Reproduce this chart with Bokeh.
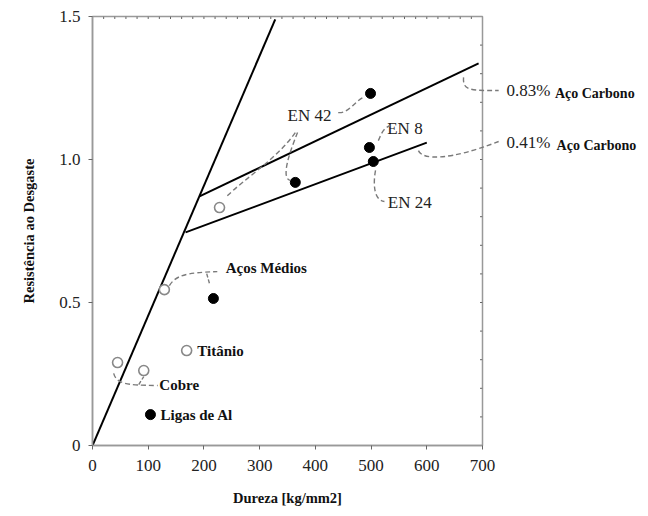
import math
from bokeh.plotting import figure
from bokeh.models import Range1d, ColumnDataSource
from bokeh.core.properties import value
from bokeh.embed import file_html
from bokeh.resources import INLINE

# ---- data ----
x_ticks = [0, 100, 200, 300, 400, 500, 600, 700]
y_ticks = [0, 0.5, 1.0, 1.5]
y_tick_labels = {0: "0", 0.5: "0.5", 1.0: "1.0", 1.5: "1.5"}
x_minor_step = 20
y_minor_step = 0.1

# trend lines (hardness, wear resistance)
line_steep_x = [0, 328]
line_steep_y = [0, 1.49]
line_083_x = [192, 693]
line_083_y = [0.871, 1.336]
line_041_x = [167, 600]
line_041_y = [0.745, 1.059]

# filled points
filled_x = [499, 497, 504, 364, 217, 104]
filled_y = [1.231, 1.042, 0.993, 0.92, 0.514, 0.108]
# open points
open_x = [228, 129, 169, 45, 92]
open_y = [0.832, 0.545, 0.332, 0.29, 0.262]

# labels
en_labels = ["EN 42", "EN 8", "EN 24"]
en_x = [350, 529, 530]
en_y = [1.154, 1.108, 0.85]

pct_labels = ["0.83%", "0.41%"]
pct_x = [743, 743]
pct_y = [1.241, 1.059]
carb_labels = ["Aço Carbono", "Aço Carbono"]
carb_x = [830, 833]
carb_y = [1.231, 1.049]

mat_labels = ["Aços Médios", "Titânio", "Cobre", "Ligas de Al"]
mat_x = [239, 188, 120, 122]
mat_y = [0.619, 0.329, 0.213, 0.105]

# dashed leader curves (bezier: x0, y0, x1, y1, cx0, cy0, cx1, cy1)
lead_x0 = [441, 364, 368, 513, 508, 666, 585, 138, 38]
lead_y0 = [1.164, 1.094, 1.094, 1.066, 0.962, 1.287, 1.031, 0.559, 0.252]
lead_x1 = [486, 239, 355, 535, 524, 729, 729, 224, 117]
lead_y1 = [1.217, 0.867, 0.927, 1.119, 0.853, 1.241, 1.063, 0.608, 0.210]
lead_cx0 = [460, 330, 355, 517, 503, 664, 592, 149, 43]
lead_cy0 = [1.161, 1.00, 1.031, 1.080, 0.909, 1.241, 0.997, 0.594, 0.217]
lead_cx1 = [468, 270, 337, 520, 506, 678, 642, 167, 59]
lead_cy1 = [1.199, 0.93, 0.934, 1.110, 0.857, 1.241, 0.997, 0.605, 0.210]
# small hooks
hook_x0 = [205, 83]
hook_y0 = [0.601, 0.213]
hook_x1 = [210, 92]
hook_y1 = [0.566, 0.241]

SERIF = "Liberation Serif"
AX_COLOR = "#999999"
TICK_COLOR = "#666666"

p = figure(width=640, height=508,
           x_range=Range1d(0, 700), y_range=Range1d(0, 1.5),
           output_backend="svg", toolbar_location=None,
           min_border_left=92, min_border_right=158,
           min_border_top=16, min_border_bottom=63)
p.background_fill_color = "white"
p.border_fill_color = "white"
p.outline_line_color = AX_COLOR
p.outline_line_width = 1.5
p.xgrid.visible = False
p.ygrid.visible = False

for ax in (p.xaxis[0], p.yaxis[0]):
    ax.axis_line_color = AX_COLOR
    ax.axis_line_width = 1.5
    ax.major_tick_line_color = TICK_COLOR
    ax.minor_tick_line_color = TICK_COLOR
    ax.major_tick_in = 0
    ax.major_tick_out = 4
    ax.minor_tick_in = 2
    ax.minor_tick_out = 0
    ax.major_label_text_font = SERIF
    ax.major_label_text_font_size = "17px"
    ax.major_label_text_color = "#222222"
    ax.axis_label_text_font = SERIF
    ax.axis_label_text_font_style = "bold"
    ax.axis_label_text_font_size = "14.5px"
    ax.axis_label_text_color = "#111111"

p.xaxis.ticker = x_ticks
p.xaxis.ticker.num_minor_ticks = 5
p.yaxis.ticker = y_ticks
p.yaxis.ticker.num_minor_ticks = 5
p.yaxis.major_label_overrides = y_tick_labels
p.xaxis.axis_label = "Dureza [kg/mm2]"
p.yaxis.axis_label = "Resistência ao Desgaste"
p.xaxis.major_label_standoff = 10
p.xaxis.axis_label_standoff = 16
p.yaxis.major_label_standoff = 8
p.yaxis.axis_label_standoff = 19

# ticks on top and right frame edges (inward)
top_minor = [i * x_minor_step for i in range(1, int(x_ticks[-1] / x_minor_step))]
right_minor = [round(i * y_minor_step, 2) for i in range(1, int(round(y_ticks[-1] / y_minor_step)))]
p.ray(x=top_minor, y=[y_ticks[-1]] * len(top_minor), length=2.5, length_units="screen",
      angle=-math.pi / 2, line_color=TICK_COLOR, line_width=1)
p.ray(x=[x_ticks[-1]] * len(right_minor), y=right_minor, length=2.5, length_units="screen",
      angle=math.pi, line_color=TICK_COLOR, line_width=1)

# leader curves
lead_src = ColumnDataSource(dict(x0=lead_x0, y0=lead_y0, x1=lead_x1, y1=lead_y1,
                                 cx0=lead_cx0, cy0=lead_cy0, cx1=lead_cx1, cy1=lead_cy1))
p.bezier(x0="x0", y0="y0", x1="x1", y1="y1", cx0="cx0", cy0="cy0", cx1="cx1", cy1="cy1",
         source=lead_src, line_color="#7a7a7a", line_width=1.4, line_dash="5 3", level="overlay")
p.segment(x0=hook_x0, y0=hook_y0, x1=hook_x1, y1=hook_y1,
          line_color="#7a7a7a", line_width=1.4, line_dash="4 2")

# lines
for lx, ly in [(line_steep_x, line_steep_y), (line_083_x, line_083_y), (line_041_x, line_041_y)]:
    p.line(lx, ly, line_color="black", line_width=2)

# points
p.scatter(filled_x, filled_y, size=10, marker="circle", fill_color="black", line_color="black")
p.scatter(open_x, open_y, size=10, marker="circle", fill_color="white",
          line_color="#888888", line_width=1.6)

# texts
p.text(en_x, en_y, text=en_labels, text_font=value(SERIF), text_font_size="17px",
       text_color="#222222", text_baseline="middle", text_align="left")
p.text(pct_x, pct_y, text=pct_labels, text_font=value(SERIF), text_font_size="17px",
       text_color="#222222", text_baseline="middle", text_align="left", level="overlay")
p.text(carb_x, carb_y, text=carb_labels, text_font=value(SERIF), text_font_size="14px",
       text_font_style="bold", text_color="#111111", text_baseline="middle",
       text_align="left", level="overlay")
p.text(mat_x, mat_y, text=mat_labels, text_font=value(SERIF), text_font_size="15px",
       text_font_style="bold", text_color="#111111", text_baseline="middle", text_align="left")

open("out.html", "w").write(file_html(p, INLINE))
